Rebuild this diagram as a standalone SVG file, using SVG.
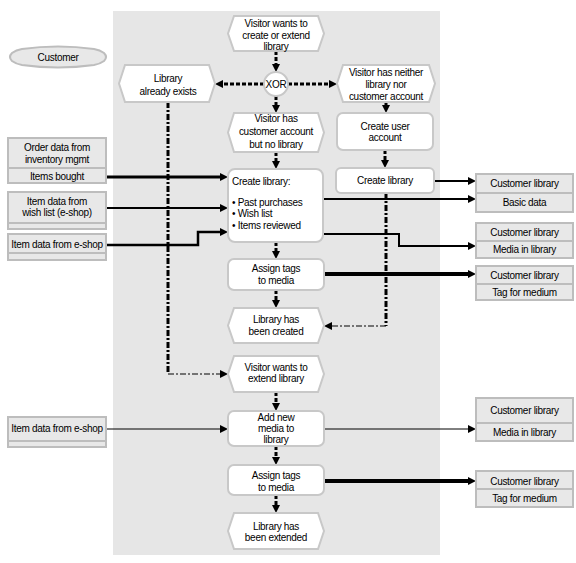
<svg xmlns="http://www.w3.org/2000/svg" width="576" height="563" viewBox="0 0 576 563">
<style>
text{font-family:"Liberation Sans",Arial,sans-serif;font-size:10px;fill:#000;letter-spacing:-0.3px}
.c{text-anchor:middle}
.node{fill:#fff;stroke:#c8c8c8;stroke-width:2}
.data{fill:#e8e8e8;stroke:#bdbdbd;stroke-width:2}
.cf{fill:none;stroke:#000;stroke-width:3;stroke-dasharray:4,2}
.dd{fill:none;stroke:#000;stroke-width:3;stroke-dasharray:6,2,2,2}
.ddt{fill:none;stroke:#000;stroke-width:1;stroke-dasharray:6,2,2,2}
.df{fill:none;stroke:#000}
</style>
<defs>
<marker id="a" markerWidth="8" markerHeight="8" refX="2" refY="4" orient="auto" markerUnits="userSpaceOnUse">
<path d="M0,0 L8,4 L0,8 z" fill="#000"/>
</marker>
</defs>
<rect x="0" y="0" width="576" height="563" fill="#fff"/>
<rect id="lane" x="113" y="11" width="327" height="544" fill="#e6e6e6"/>

<g id="customer">
<path d="M22,49 Q58,44 94,49 Q100,50 104,53 Q108,57 104,61 Q100,64 94,65 Q58,70 22,65 Q16,64 12,61 Q8,57 12,53 Q16,50 22,49 Z" class="data"/>
<text x="58" y="61" class="c">Customer</text>
</g>

<g id="connectors">
<path class="cf" d="M276,51 V66" marker-end="url(#a)"/>
<path class="cf" d="M264,84 H221" marker-end="url(#a)"/>
<path class="cf" d="M288,84 H331" marker-end="url(#a)"/>
<path class="cf" d="M276,96 V107" marker-end="url(#a)"/>
<path class="cf" d="M386,102 V107" marker-end="url(#a)"/>
<path class="cf" d="M385,150 V162" marker-end="url(#a)"/>
<path class="cf" d="M276,152 V163" marker-end="url(#a)"/>
<path class="cf" d="M276,242 V253" marker-end="url(#a)"/>
<path class="cf" d="M276,290 V302" marker-end="url(#a)"/>
<path class="cf" d="M276,392 V405" marker-end="url(#a)"/>
<path class="cf" d="M276,446 V459" marker-end="url(#a)"/>
<path class="cf" d="M276,495 V507" marker-end="url(#a)"/>
<path class="dd" d="M168,102 V374"/>
<path class="ddt" d="M168,374 H222" marker-end="url(#a)"/>
<path class="dd" d="M386,193 V326"/>
<path class="ddt" d="M386,326 H330" marker-end="url(#a)"/>
<path class="df" stroke-width="3" d="M106,177 H222" marker-end="url(#a)"/>
<path class="df" stroke-width="2" d="M106,208 H222" marker-end="url(#a)"/>
<path class="df" stroke-width="2.5" d="M106,245 H198 V232 H222" marker-end="url(#a)"/>
<path class="df" stroke-width="2" d="M434,181 H470" marker-end="url(#a)"/>
<path class="df" stroke-width="2" d="M323,199 H470" marker-end="url(#a)"/>
<path class="df" stroke-width="2" d="M323,234 H399 V246 H470" marker-end="url(#a)"/>
<path class="df" stroke-width="4" d="M324,274 H470" marker-end="url(#a)"/>
<path class="df" stroke-width="1" d="M106,429 H222" marker-end="url(#a)"/>
<path class="df" stroke-width="1" d="M324,429 H470" marker-end="url(#a)"/>
<path class="df" stroke-width="4" d="M324,481 H470" marker-end="url(#a)"/>
</g>

<g id="ev-start">
<path class="node" d="M234,16 H318 L324,33.5 L318,51 H234 L228,33.5 Z"/>
<text x="276" y="27" class="c">Visitor wants to</text>
<text x="276" y="38.5" class="c">create or extend</text>
<text x="276" y="50" class="c">library</text>
</g>
<g id="xor">
<circle cx="276" cy="84" r="12" class="node"/>
<text x="276" y="88" class="c">XOR</text>
</g>
<g id="ev-exists">
<path class="node" d="M125,65 H209 L215,83.5 L209,102 H125 L119,83.5 Z"/>
<text x="168" y="81.5" class="c">Library</text>
<text x="168" y="94.5" class="c">already exists</text>
</g>
<g id="ev-neither">
<path class="node" d="M343,65 H429 L435,83.5 L429,102 H343 L337,83.5 Z"/>
<text x="386" y="75.5" class="c">Visitor has neither</text>
<text x="386" y="87.5" class="c">library nor</text>
<text x="386" y="99.5" class="c">customer account</text>
</g>
<g id="ev-account">
<path class="node" d="M234,113 H318 L324,132.5 L318,152 H234 L228,132.5 Z"/>
<text x="276" y="122" class="c">Visitor has</text>
<text x="276" y="135" class="c">customer account</text>
<text x="276" y="147.5" class="c">but no library</text>
</g>
<g id="fn-user">
<rect x="337" y="113" width="96" height="37" rx="6" class="node"/>
<text x="385" y="129.5" class="c">Create user</text>
<text x="385" y="141" class="c">account</text>
</g>
<g id="fn-create">
<rect x="228" y="169" width="95" height="73" rx="7" class="node"/>
<text x="232" y="185">Create library:</text>
<text x="232" y="206">• Past purchases</text>
<text x="232" y="217">• Wish list</text>
<text x="232" y="228.5">• Items reviewed</text>
</g>
<g id="fn-create2">
<rect x="336" y="168" width="98" height="25" rx="5" class="node"/>
<text x="385" y="184" class="c">Create library</text>
</g>
<g id="fn-tags1">
<rect x="228" y="259" width="96" height="31" rx="6" class="node"/>
<text x="276" y="271.5" class="c">Assign tags</text>
<text x="276" y="283.5" class="c">to media</text>
</g>
<g id="ev-created">
<path class="node" d="M234,308 H318 L324,325.5 L318,343 H234 L228,325.5 Z"/>
<text x="276" y="322.5" class="c">Library has</text>
<text x="276" y="334.5" class="c">been created</text>
</g>
<g id="ev-extend">
<path class="node" d="M234,356 H318 L324,374 L318,392 H234 L228,374 Z"/>
<text x="276" y="370.5" class="c">Visitor wants to</text>
<text x="276" y="381.5" class="c">extend library</text>
</g>
<g id="fn-add">
<rect x="228" y="411" width="96" height="35" rx="6" class="node"/>
<text x="276" y="420.5" class="c">Add new</text>
<text x="276" y="431.5" class="c">media to</text>
<text x="276" y="443" class="c">library</text>
</g>
<g id="fn-tags2">
<rect x="228" y="465" width="96" height="30" rx="6" class="node"/>
<text x="276" y="478.5" class="c">Assign tags</text>
<text x="276" y="490.5" class="c">to media</text>
</g>
<g id="ev-extended">
<path class="node" d="M234,513 H318 L324,531 L318,549 H234 L228,531 Z"/>
<text x="276" y="529.5" class="c">Library has</text>
<text x="276" y="540.5" class="c">been extended</text>
</g>

<g id="in-order">
<rect x="8" y="138" width="98" height="30" class="data"/>
<rect x="8" y="168" width="98" height="15" class="data"/>
<text x="57" y="150.5" class="c">Order data from</text>
<text x="57" y="162.5" class="c">inventory mgmt</text>
<text x="57" y="179.5" class="c">Items bought</text>
</g>
<g id="in-wish">
<rect x="8" y="192" width="98" height="31" class="data"/>
<rect x="8" y="223" width="98" height="6" class="data"/>
<text x="57" y="204.5" class="c">Item data from</text>
<text x="57" y="215.5" class="c">wish list (e-shop)</text>
</g>
<g id="in-eshop1">
<rect x="8" y="234" width="98" height="19" class="data"/>
<rect x="8" y="253" width="98" height="7" class="data"/>
<text x="57" y="247.5" class="c">Item data from e-shop</text>
</g>
<g id="in-eshop2">
<rect x="8" y="417" width="98" height="24" class="data"/>
<rect x="8" y="441" width="98" height="6" class="data"/>
<text x="57" y="431.5" class="c">Item data from e-shop</text>
</g>

<g id="out-basic">
<rect x="476" y="174" width="97" height="19" class="data"/>
<rect x="476" y="193" width="97" height="19" class="data"/>
<text x="524.5" y="187" class="c">Customer library</text>
<text x="524.5" y="206" class="c">Basic data</text>
</g>
<g id="out-media1">
<rect x="476" y="223" width="97" height="18" class="data"/>
<rect x="476" y="241" width="97" height="17" class="data"/>
<text x="524.5" y="235.5" class="c">Customer library</text>
<text x="524.5" y="253" class="c">Media in library</text>
</g>
<g id="out-tag1">
<rect x="476" y="266" width="97" height="18" class="data"/>
<rect x="476" y="284" width="97" height="16" class="data"/>
<text x="524.5" y="278.5" class="c">Customer library</text>
<text x="524.5" y="295.5" class="c">Tag for medium</text>
</g>
<g id="out-media2">
<rect x="476" y="398" width="97" height="25" class="data"/>
<rect x="476" y="423" width="97" height="18" class="data"/>
<text x="524.5" y="413.5" class="c">Customer library</text>
<text x="524.5" y="436" class="c">Media in library</text>
</g>
<g id="out-tag2">
<rect x="476" y="471" width="97" height="18" class="data"/>
<rect x="476" y="489" width="97" height="18" class="data"/>
<text x="524.5" y="484.5" class="c">Customer library</text>
<text x="524.5" y="501.5" class="c">Tag for medium</text>
</g>
</svg>
